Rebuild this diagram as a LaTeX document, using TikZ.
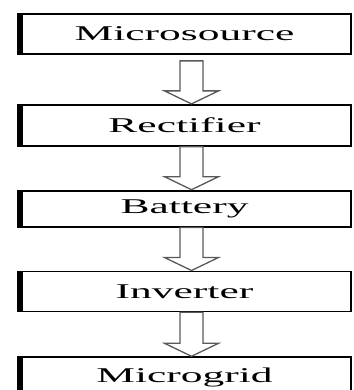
\documentclass[tikz,border=0pt]{standalone}
\usepackage{fontspec}
\setmainfont{Liberation Serif}
\newfontfamily\stagefont[FakeStretch=2.07]{Liberation Serif}
\usetikzlibrary{calc,positioning}

\begin{document}
\begin{tikzpicture}[
    x=1pt, y=-1pt,
    font=\stagefont\fontsize{21}{24}\selectfont,
    stage/.style={draw, line width=1.8pt, fill=white, inner sep=0pt,
                  minimum width=333pt, minimum height=40pt,
                  path picture={\draw[line width=10pt]
                    (path picture bounding box.north west) --
                    (path picture bounding box.south west);}},
    flow/.style={draw=gray!70!black, line width=1.3pt,
                 to path={let \p1=(\tikztostart), \p2=(\tikztotarget) in
                   (\x1-11.5pt,\y1) -- (\x1-11.5pt,\y2+13pt) -- (\x1-27pt,\y2+13pt)
                   -- (\x1,\y2) -- (\x1+27pt,\y2+13pt) -- (\x1+11.5pt,\y2+13pt)
                   -- (\x1+11.5pt,\y1) -- cycle}}
  ]
  \useasboundingbox (0,0) rectangle (353,390);
  \clip (0,0) rectangle (353,390);
  \node[stage] (src) at (184.5,34) {Microsource};
  \node[stage, minimum height=41pt, below=49pt of src] (rect) {Rectifier};
  \node[stage, minimum height=36pt, below=43pt of rect] (batt) {Battery};
  \node[stage, below=43pt of batt] (inv) {Inverter};
  \node[stage, below=44pt of inv] (grid) {Microgrid};
  \draw[flow] ([xshift=7pt,yshift=-6pt]src.south) to ([xshift=7pt]rect.north);
  \draw[flow] ([xshift=7pt]rect.south) to ([xshift=7pt]batt.north);
  \draw[flow] ([xshift=7pt]batt.south) to ([xshift=7pt]inv.north);
  \draw[flow] ([xshift=7pt]inv.south) to ([xshift=7pt]grid.north);
\end{tikzpicture}
\end{document}
